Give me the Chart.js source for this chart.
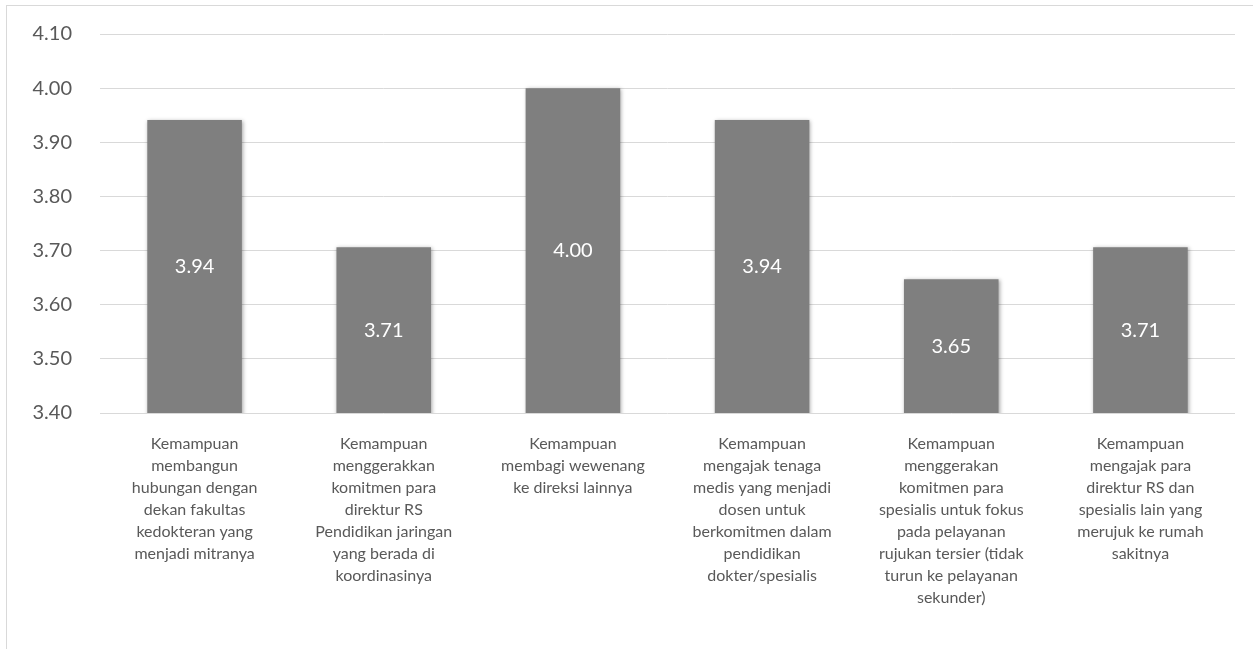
<!DOCTYPE html>
<html lang="id">
<head>
  <meta charset="UTF-8">
  <title>Kemampuan</title>
  <script src="https://cdn.jsdelivr.net/npm/chart.js"></script>
  <style>
    html, body { margin: 0; padding: 0; background: #fff; overflow: hidden; }
    #frame {
      position: absolute; left: 6px; top: 5px; width: 1260px; height: 700px;
      border: 1px solid #d9d9d9; background: #fff;
    }
    #wrap { position: absolute; left: 0; top: 0; width: 1246px; height: 643px; }
  </style>
  <script>
    const categories = [
      ['Kemampuan', 'membangun', 'hubungan dengan', 'dekan fakultas', 'kedokteran yang', 'menjadi mitranya'],
      ['Kemampuan', 'menggerakkan', 'komitmen para', 'direktur RS', 'Pendidikan jaringan', 'yang berada di', 'koordinasinya'],
      ['Kemampuan', 'membagi wewenang', 'ke direksi lainnya'],
      ['Kemampuan', 'mengajak tenaga', 'medis yang menjadi', 'dosen untuk', 'berkomitmen dalam', 'pendidikan', 'dokter/spesialis'],
      ['Kemampuan', 'menggerakan', 'komitmen para', 'spesialis untuk fokus', 'pada pelayanan', 'rujukan tersier (tidak', 'turun ke pelayanan', 'sekunder)'],
      ['Kemampuan', 'mengajak para', 'direktur RS dan', 'spesialis lain yang', 'merujuk ke rumah', 'sakitnya']
    ];
    const scores = [3.941, 3.706, 4.00, 3.941, 3.647, 3.706];
    const yMin = 3.40;
    const yMax = 4.10;
    const yStep = 0.10;

    // soft shadow behind bars
    const barShadow = {
      id: 'barShadow',
      beforeDatasetsDraw(chart) {
        const ctx = chart.ctx;
        ctx.save();
        ctx.shadowColor = 'rgba(0,0,0,0.35)';
        ctx.shadowBlur = 4;
        ctx.shadowOffsetX = 1;
        ctx.shadowOffsetY = 1;
      },
      afterDatasetsDraw(chart) {
        chart.ctx.restore();
      }
    };

    // white value labels in the middle of each bar
    const barLabels = {
      id: 'barLabels',
      afterDraw(chart) {
        const ctx = chart.ctx;
        const yScale = chart.scales.y;
        const base = yScale.getPixelForValue(yMin);
        ctx.save();
        ctx.font = '20px Lato';
        ctx.fillStyle = '#ffffff';
        ctx.textAlign = 'center';
        ctx.textBaseline = 'middle';
        chart.getDatasetMeta(0).data.forEach((bar, i) => {
          const top = yScale.getPixelForValue(scores[i]);
          ctx.fillText(scores[i].toFixed(2), bar.x, (top + base) / 2);
        });
        ctx.restore();
      }
    };

    function createChart() {
      const ctx = document.getElementById('scoreChart').getContext('2d');
      new Chart(ctx, {
        type: 'bar',
        data: {
          labels: categories,
          datasets: [{
            data: scores,
            backgroundColor: '#7f7f7f',
            borderWidth: 0,
            categoryPercentage: 1,
            barPercentage: 0.5
          }]
        },
        options: {
          responsive: false,
          animation: false,
          layout: { padding: { top: 28, right: 18, left: 0, bottom: 0 } },
          plugins: {
            legend: { display: false },
            tooltip: { enabled: false }
          },
          scales: {
            x: {
              grid: { display: false },
              border: { display: false },
              ticks: {
                color: '#595959',
                font: { family: 'Lato', size: 16, lineHeight: 1.375 },
                padding: 12,
                maxRotation: 0,
                autoSkip: false
              },
              afterFit(scale) { scale.height = 236; }
            },
            y: {
              min: yMin,
              max: yMax,
              grid: { color: '#d9d9d9', lineWidth: 1, drawTicks: true, tickLength: 28, tickColor: 'rgba(0,0,0,0)' },
              border: { display: false },
              ticks: {
                stepSize: yStep,
                color: '#595959',
                font: { family: 'Lato', size: 20 },
                padding: 0,
                callback: v => v.toFixed(2)
              },
              afterFit(scale) { scale.width = 93; }
            }
          }
        },
        plugins: [barShadow, barLabels]
      });
    }

    window.onload = function() {
      createChart();
    };
  </script>
</head>
<body>
<div id="frame">
  <div id="wrap"><canvas id="scoreChart" width="1246" height="643"></canvas></div>
</div>
</body>
</html>
